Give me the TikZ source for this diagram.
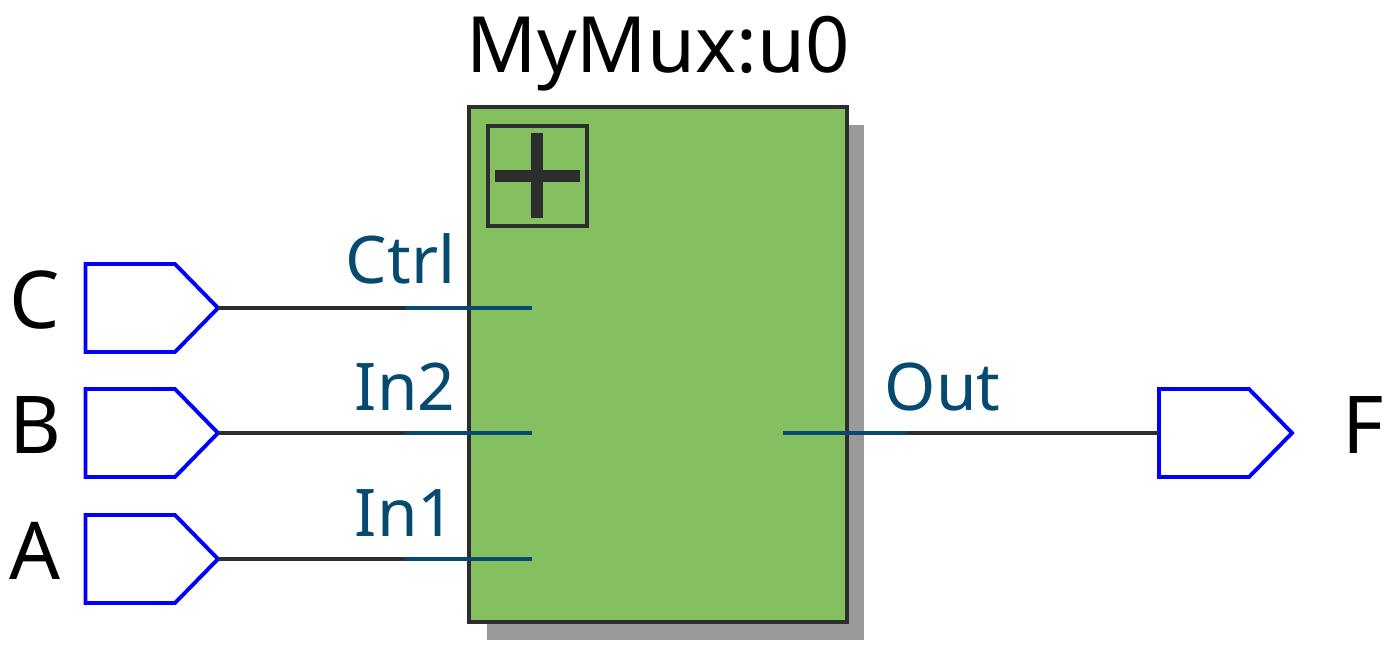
\documentclass[tikz,border=0pt]{standalone}
\usepackage{fontspec}
\setmainfont{Noto Sans}
\definecolor{pinblue}{HTML}{0000FF}
\definecolor{wirecol}{HTML}{2D2D2D}
\definecolor{portcol}{HTML}{074A70}
\definecolor{blockgreen}{HTML}{84BF60}
\definecolor{shadowcol}{HTML}{999999}
\tikzset{
	pinbody/.style={draw=pinblue, line width=1.1pt, fill=white},
	wire/.style={draw=wirecol, line width=1.05pt},
	portwire/.style={draw=portcol, line width=1.05pt},
	blockline/.style={draw=wirecol, line width=1.15pt},
	plusline/.style={draw=wirecol, line width=3.2pt},
	portlabel/.style={text=portcol, font=\fontsize{18.7}{18.7}\selectfont, inner sep=0pt},
	pinlabel/.style={text=black, font=\fontsize{22.7}{22.7}\selectfont, inner sep=0pt},
	titlelabel/.style={text=black, font=\fontsize{22.1}{22.1}\selectfont, inner sep=0pt},
}
\newcommand{\inpin}[3]{% name, y, label
	\draw[pinbody] (0.855,#2+0.44) -- (1.75,#2+0.44) -- (2.18,#2) -- (1.75,#2-0.44) -- (0.855,#2-0.44) -- cycle;
	\coordinate (#1) at (2.18,#2);
	\node[pinlabel, anchor=base] (#1label) at (0.35,#2-0.20) {#3};
}
\begin{document}
\begin{tikzpicture}
	\useasboundingbox (0,0) rectangle (13.92,6.55);
	% block
	\fill[shadowcol] (4.87,0.15) rectangle (8.64,5.30);
	\draw[blockline, fill=blockgreen] (4.69,0.33) rectangle (8.47,5.48);
	\draw[blockline] (4.88,4.29) rectangle (5.87,5.29);
	\draw[plusline] (4.95,4.79) -- (5.80,4.79);
	\draw[plusline] (5.37,4.37) -- (5.37,5.22);
	\node[titlelabel, anchor=base] (title) at (6.58,5.82) {MyMux:u0};
	% pins
	\inpin{pinc}{3.47}{C}
	\inpin{pinb}{2.22}{B}
	\inpin{pina}{0.96}{A}
	\draw[pinbody] (11.59,2.66) -- (12.49,2.66) -- (12.92,2.22) -- (12.49,1.78) -- (11.59,1.78) -- cycle;
	\coordinate (pinf) at (11.59,2.22);
	\node[pinlabel, anchor=base] (flabel) at (13.63,2.02) {F};
	% wires
	\coordinate (ctrlin) at (5.32,3.47);
	\coordinate (in2in) at (5.32,2.22);
	\coordinate (in1in) at (5.32,0.96);
	\coordinate (outin) at (7.83,2.22);
	\draw[wire] (pinc) -- (ctrlin);
	\draw[wire] (pinb) -- (in2in);
	\draw[wire] (pina) -- (in1in);
	\draw[wire] (outin) -- (pinf);
	\draw[portwire] (4.05,3.47) -- (ctrlin);
	\draw[portwire] (4.05,2.22) -- (in2in);
	\draw[portwire] (4.05,0.96) -- (in1in);
	\draw[portwire] (outin) -- (9.07,2.22);
	\node[portlabel, anchor=base east] (ctrl) at (4.56,3.72) {Ctrl};
	\node[portlabel, anchor=base east] (in2) at (4.56,2.45) {In2};
	\node[portlabel, anchor=base east] (in1) at (4.56,1.19) {In1};
	\node[portlabel, anchor=base west] (out) at (8.84,2.45) {Out};
\end{tikzpicture}
\end{document}
